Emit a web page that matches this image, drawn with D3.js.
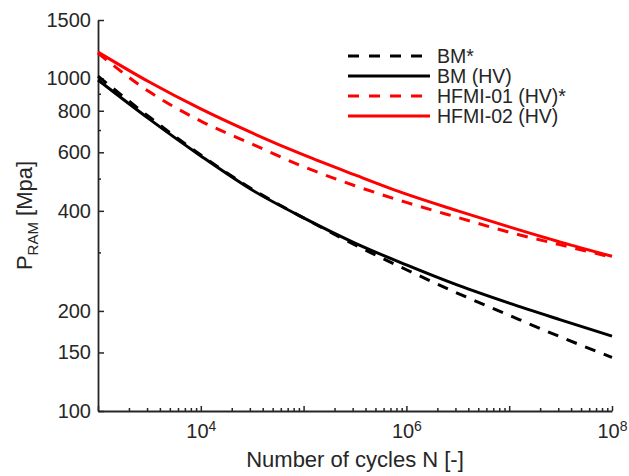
<!DOCTYPE html>
<html>
<head>
<meta charset="utf-8">
<script src="https://cdn.jsdelivr.net/npm/d3@7"></script>
<style>
  body { margin: 0; background: #fff; }
  svg { font-family: "Liberation Sans", Arial, sans-serif; }
</style>
</head>
<body>
<svg id="chart" width="629" height="476"></svg>
<script>
// sample points along N (half decades)
const cycles = [1e3, 3.16e3, 1e4, 3.16e4, 1e5, 3.16e5, 1e6, 3.16e6, 1e7, 3.16e7, 1e8];
const bmStar = [1017, 766, 589, 465, 381, 316, 266, 226, 194, 167, 145];
const bmHV = [990, 755, 585, 462, 381, 320, 275, 239, 211, 188, 168];
const hfmi01 = [1193, 912, 745, 635, 543, 476, 424, 382, 345, 316, 290];
const hfmi02 = [1201, 976, 810, 686, 589, 513, 449, 400, 358, 322, 292];

const seriesNames = ['BM*', 'BM (HV)', 'HFMI-01 (HV)*', 'HFMI-02 (HV)'];
const seriesColors = ['#000000', '#000000', '#ff0000', '#ff0000'];
const seriesDashed = [true, false, true, false];
const seriesValues = [bmStar, bmHV, hfmi01, hfmi02];

const yMajorTicks = [100, 150, 200, 400, 600, 800, 1000, 1500];
const yMinorTicks = [300, 500, 700, 900];
const xMajorTicks = [1e3, 1e4, 1e5, 1e6, 1e7, 1e8];
const xLabelled = [1e4, 1e6, 1e8];

const svg = d3.select('#chart');
const axisColor = '#262626';

const x = d3.scaleLog().domain([1e3, 1e8]).range([98, 612]);
const y = d3.scaleLog().domain([100, 1500]).range([411, 20]);

// minor ticks on x: 2..9 times each decade
const xMinorTicks = [];
for (let e = 3; e < 8; e++) {
  for (let m = 2; m <= 9; m++) xMinorTicks.push(m * Math.pow(10, e));
}

// y axis
svg.append('g')
  .attr('transform', `translate(${x.range()[0]},0)`)
  .call(d3.axisLeft(y).tickValues(yMinorTicks).tickFormat('').tickSizeInner(-3).tickSizeOuter(0))
  .call(g => g.select('.domain').remove())
  .selectAll('line').attr('stroke', axisColor).attr('stroke-width', 1.5);

const yAxis = svg.append('g')
  .attr('transform', `translate(${x.range()[0]},0)`)
  .call(d3.axisLeft(y).tickValues(yMajorTicks).tickFormat(d3.format('d'))
    .tickSizeInner(-6).tickSizeOuter(0).tickPadding(7));
yAxis.selectAll('text').attr('font-size', 20).attr('fill', axisColor)
  .attr('font-family', '"Liberation Sans", Arial, sans-serif');
yAxis.selectAll('line').attr('stroke', axisColor).attr('stroke-width', 1.5);
yAxis.select('.domain').attr('stroke', axisColor).attr('stroke-width', 1.8);

// x axis
svg.append('g')
  .attr('transform', `translate(0,${y.range()[0]})`)
  .call(d3.axisBottom(x).tickValues(xMinorTicks).tickFormat('').tickSizeInner(-3).tickSizeOuter(0))
  .call(g => g.select('.domain').remove())
  .selectAll('line').attr('stroke', axisColor).attr('stroke-width', 1.5);

const xAxis = svg.append('g')
  .attr('transform', `translate(0,${y.range()[0]})`)
  .call(d3.axisBottom(x).tickValues(xMajorTicks).tickFormat('')
    .tickSizeInner(-5).tickSizeOuter(0).tickPadding(13));
xAxis.selectAll('line').attr('stroke', axisColor).attr('stroke-width', 1.5);
xAxis.select('.domain').attr('stroke', axisColor).attr('stroke-width', 1.8);
xAxis.selectAll('.tick text')
  .attr('font-size', 20).attr('fill', axisColor)
  .attr('font-family', '"Liberation Sans", Arial, sans-serif')
  .each(function(d) {
    if (!xLabelled.includes(d)) return;
    const t = d3.select(this);
    t.append('tspan').text('10');
    t.append('tspan').attr('dy', '-0.5em').attr('font-size', 14).text(Math.round(Math.log10(d)));
  });

// axis titles
svg.append('text')
  .attr('x', (x.range()[0] + x.range()[1]) / 2)
  .attr('y', 467)
  .attr('text-anchor', 'middle')
  .attr('font-size', 22)
  .attr('fill', axisColor)
  .text('Number of cycles N [-]');

const yTitle = svg.append('text')
  .attr('transform', `translate(32,${(y.range()[0] + y.range()[1]) / 2}) rotate(-90)`)
  .attr('text-anchor', 'middle')
  .attr('font-size', 22)
  .attr('fill', axisColor);
yTitle.append('tspan').text('P');
yTitle.append('tspan').attr('dy', 6).attr('font-size', 15).text('RAM');
yTitle.append('tspan').attr('dy', -6).text(' [Mpa]');

// curves
const line = d3.line()
  .x((d, i) => x(cycles[i]))
  .y(d => y(d))
  .curve(d3.curveMonotoneX);

svg.append('g').selectAll('path')
  .data(seriesValues)
  .enter()
  .append('path')
    .attr('d', d => line(d))
    .attr('fill', 'none')
    .attr('stroke', (d, i) => seriesColors[i])
    .attr('stroke-width', 3)
    .attr('stroke-dasharray', (d, i) => seriesDashed[i] ? '11,9' : null);

// legend
const legend = svg.append('g').selectAll('g')
  .data(seriesNames)
  .enter()
  .append('g')
    .attr('transform', (d, i) => `translate(348,${56 + i * 20})`);

legend.append('line')
  .attr('x1', 0).attr('x2', 82)
  .attr('stroke', (d, i) => seriesColors[i])
  .attr('stroke-width', 3)
  .attr('stroke-dasharray', (d, i) => seriesDashed[i] ? '11,10' : null);

legend.append('text')
  .attr('x', 89)
  .attr('dy', '0.35em')
  .attr('font-size', 19.5)
  .attr('fill', axisColor)
  .text(d => d);
</script>
</body>
</html>
